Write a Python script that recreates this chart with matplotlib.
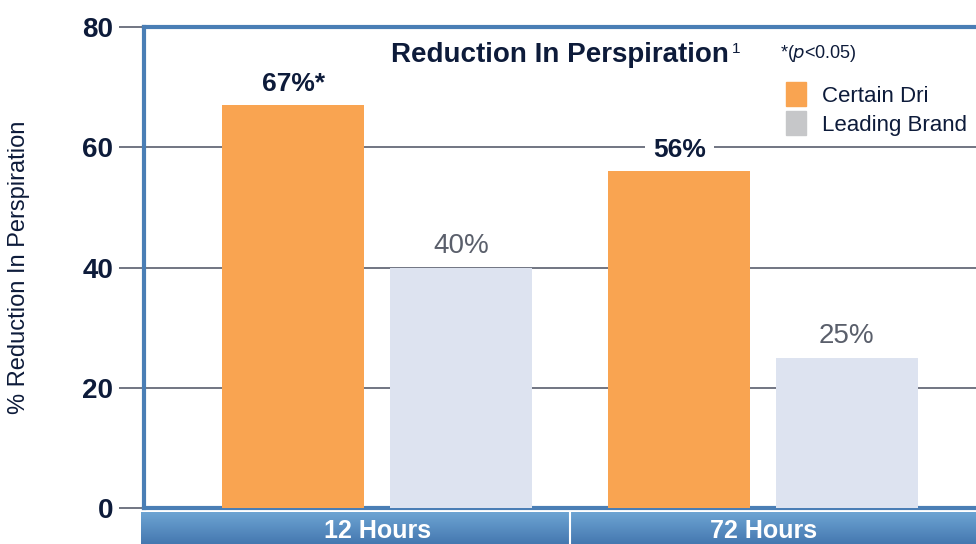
import numpy as np
import matplotlib.pyplot as plt
from matplotlib.patches import Patch

categories = ["12 Hours", "72 Hours"]
certain_dri = [67, 56]
leading_brand = [40, 25]
certain_labels = ["67%*", "56%"]
leading_labels = ["40%", "25%"]
yticks = [0, 20, 40, 60, 80]

navy = "#0d1b3a"
orange = "#f9a451"
pale = "#dde3f0"
border = "#4a7eb5"

plt.rcParams['font.family'] = ['Liberation Sans', 'DejaVu Sans']

fig = plt.figure(figsize=(9.76, 5.44), dpi=100)
ax_left, ax_right = 144 / 976, 1.02
ax = fig.add_axes([ax_left, 1 - 508 / 544, ax_right - ax_left, (508 - 27) / 544])

# 386 px between the two groups
px_per_unit = 386
x0 = -0.604
x1 = x0 + (ax_right - ax_left) * 976 / px_per_unit

x = np.arange(len(categories))
off = 0.217
w = 0.368
ax.bar(x - off, certain_dri, w, color=orange, zorder=3)
ax.bar(x + off, leading_brand, w, color=pale, zorder=3)

for xi, v, lab in zip(x, certain_dri, certain_labels):
    ax.text(xi - off, v + 1.5, lab, ha='center', va='bottom', fontsize=19,
            fontweight='bold', color=navy, zorder=5,
            bbox=dict(facecolor='white', edgecolor='none', pad=6))
for xi, v, lab in zip(x, leading_brand, leading_labels):
    ax.text(xi + off, v + 1.4, lab, ha='center', va='bottom', fontsize=20,
            color="#5a5f6b", zorder=5)

ax.set_ylim(0, 80)
ax.set_xlim(x0, x1)
ax.set_yticks(yticks)
ax.set_yticklabels([str(t) for t in yticks], fontsize=20, fontweight='bold', color=navy)
ax.set_xticks([])
ax.yaxis.grid(True, color="#4a5060", linewidth=1.1, zorder=1)
ax.tick_params(axis='y', length=18, width=1.1, color="#4a5060", pad=4)
for side in ['left', 'top', 'bottom']:
    ax.spines[side].set_color(border)
    ax.spines[side].set_linewidth(3)
ax.spines['right'].set_visible(False)
ax.set_ylabel("% Reduction In Perspiration", fontsize=17, color=navy, labelpad=38)

# title and notes
title = fig.text(391 / 976, 1 - 55 / 544, "Reduction In Perspiration", fontsize=20,
                 fontweight='bold', color=navy, va='center', ha='left')
fig.canvas.draw()
ax.annotate("1", xy=(1, 1), xycoords=title, xytext=(2, 0), textcoords='offset points',
            fontsize=11, color=navy, va='top', ha='left')
fig.text(780 / 976, 1 - 53 / 544, r"*($\it{p}$<0.05)", fontsize=13, color=navy,
         va='center', ha='left')

handles = [Patch(color=orange, label="Certain Dri"),
           Patch(color="#c6c7c9", label="Leading Brand")]
fig.legend(handles=handles, loc='upper left', bbox_to_anchor=(786 / 976, 1 - 82 / 544),
           frameon=False, fontsize=16, handlelength=0.9, handleheight=1.3,
           handletextpad=0.7, labelspacing=0.2, labelcolor=navy, borderaxespad=0,
           borderpad=0)

# category band under the axis
band_left = 141 / 976
band = fig.add_axes([band_left, 0, 1 - band_left, 32 / 544])
bx0 = x0 - 3 / px_per_unit
bx1 = bx0 + (1 - band_left) * 976 / px_per_unit
grad = np.linspace(0, 1, 64).reshape(-1, 1)
top_c = np.array([0x6d, 0xa4, 0xd3]) / 255
bot_c = np.array([0x45, 0x78, 0xb0]) / 255
img = top_c * (1 - grad[..., None]) + bot_c * grad[..., None]
img = np.repeat(img, 2, axis=1)
band.imshow(img, aspect='auto', extent=[bx0, bx1, 0, 1])
band.set_xlim(bx0, bx1)
band.set_ylim(0, 1)
band.axvline(0.5, color='white', linewidth=1.5)
for xi, c in zip(x, categories):
    band.text(xi, 0.42, c, ha='center', va='center', fontsize=18,
              fontweight='bold', color='white')
band.axis('off')

fig.savefig("out.png", dpi=100)
